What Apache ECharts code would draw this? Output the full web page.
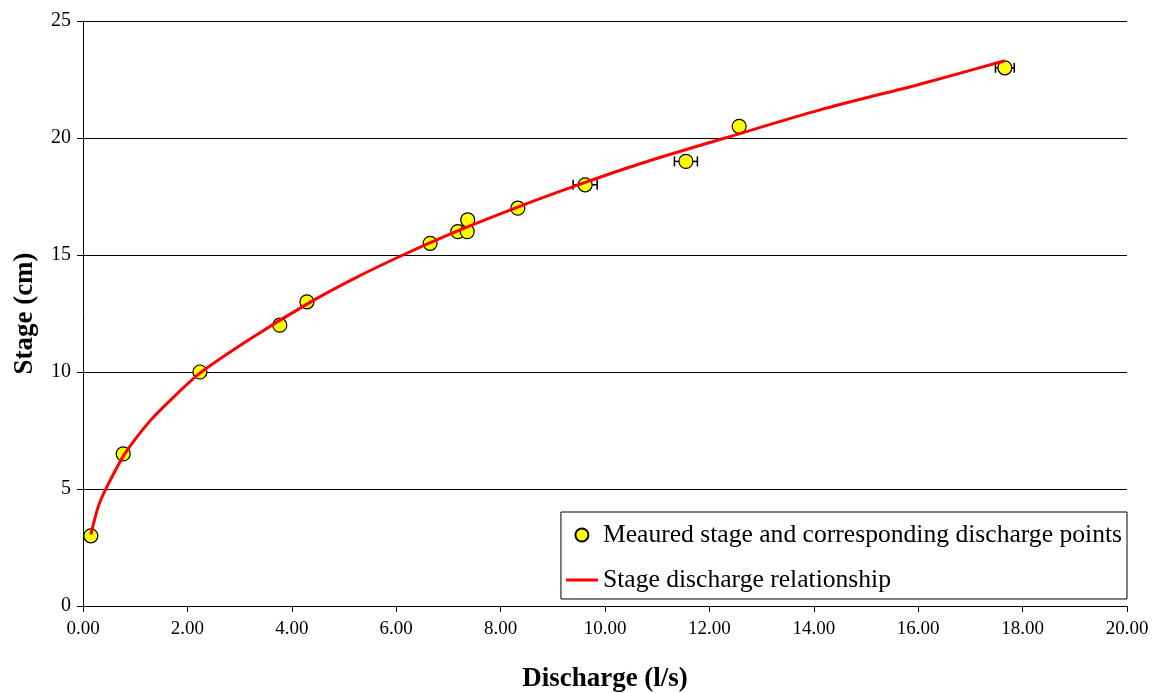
<!DOCTYPE html>
<html>
<head>
<meta charset="utf-8">
<script src="https://cdn.jsdelivr.net/npm/echarts@6/dist/echarts.min.js"></script>
<style>
  html, body { margin: 0; padding: 0; background: #fff; }
  #chart { width: 1166px; height: 693px; }
</style>
</head>
<body>
<div id="chart"></div>
<script>
// measured points: discharge (l/s) and stage (cm)
const pointQ = [0.15, 0.77, 2.24, 3.77, 4.29, 6.65, 7.18, 7.36, 7.37, 8.33, 9.62, 11.55, 12.57, 17.66]
const pointH = [3, 6.5, 10, 12, 13, 15.5, 16, 16, 16.5, 17, 18, 19, 20.5, 23]

// horizontal error bars: discharge, stage, +/- half width
const errQ = [7.36, 7.37, 9.62, 11.55, 17.66]
const errH = [16, 16.5, 18, 19, 23]
const errW = [0.1, 0.1, 0.23, 0.22, 0.18]

// stage discharge relationship
const curveQ = [0.15, 0.3, 0.46, 0.8, 1.28, 1.7, 2.24, 3.23, 4.29, 5.2, 6.13, 7.2, 8.33, 9.62, 10.67, 12.3, 14.12, 16.03, 17.66]
const curveH = [3.05, 4.3, 5.1, 6.5, 7.9, 8.85, 9.95, 11.45, 12.9, 14.0, 15.0, 16.05, 17.05, 18.1, 18.9, 20.0, 21.2, 22.3, 23.3]

const pointName = 'Meaured stage and corresponding discharge points'
const curveName = 'Stage discharge relationship'

const serif = '"Liberation Serif", "DejaVu Serif", serif'

const chart = echarts.init(document.getElementById('chart'))

const option = {
  backgroundColor: '#fff',
  animation: false,
  textStyle: { fontFamily: serif, color: '#000' },
  grid: { left: 83, right: 39, top: 21, bottom: 87, containLabel: false, outerBoundsMode: 'none' },
  legend: {
    data: [
      { name: pointName, icon: 'circle' },
      { name: curveName, icon: 'path://M0,0 L32,0 L32,3 L0,3 Z', itemStyle: { color: '#ff0000' } }
    ],
    orient: 'vertical',
    right: 39,
    top: 512,
    padding: [10, 5, 6, 5],
    itemGap: 19,
    itemWidth: 32,
    itemHeight: 13,
    backgroundColor: '#fff',
    borderColor: '#000',
    borderWidth: 1,
    borderRadius: 0,
    textStyle: { fontFamily: serif, fontSize: 25.6, color: '#000' }
  },
  xAxis: {
    type: 'value',
    min: 0,
    max: 20,
    interval: 2,
    name: 'Discharge (l/s)',
    nameLocation: 'middle',
    nameGap: 60,
    nameTextStyle: { fontFamily: serif, fontSize: 27, fontWeight: 'bold', color: '#000' },
    axisLine: { show: true, onZero: false, lineStyle: { color: '#000', width: 1 } },
    axisTick: { show: true, length: 6, lineStyle: { color: '#000' } },
    axisLabel: {
      fontFamily: serif, fontSize: 19, color: '#000', margin: 14,
      formatter: v => v.toFixed(2)
    },
    splitLine: { show: false }
  },
  yAxis: {
    type: 'value',
    min: 0,
    max: 25,
    interval: 5,
    name: 'Stage (cm)',
    nameLocation: 'middle',
    nameGap: 44,
    nameRotate: 90,
    nameTextStyle: { fontFamily: serif, fontSize: 27, fontWeight: 'bold', color: '#000' },
    axisLine: { show: true, lineStyle: { color: '#000', width: 1 } },
    axisTick: { show: true, length: 6, lineStyle: { color: '#000' } },
    axisLabel: { fontFamily: serif, fontSize: 20, color: '#000', margin: 12 },
    splitLine: { show: true, lineStyle: { color: '#000', width: 1 } }
  },
  series: [
    {
      name: 'error',
      type: 'custom',
      z: 2,
      data: errQ.map((q, i) => [q, errH[i], errW[i]]),
      encode: { x: 0, y: 1 },
      renderItem: (params, api) => {
        const q = api.value(0)
        const h = api.value(1)
        const w = api.value(2)
        const lo = api.coord([q - w, h])
        const hi = api.coord([q + w, h])
        const cap = 5
        const style = { stroke: '#000', lineWidth: 1.5 }
        return {
          type: 'group',
          children: [
            { type: 'line', shape: { x1: lo[0], y1: lo[1], x2: hi[0], y2: hi[1] }, style },
            { type: 'line', shape: { x1: lo[0], y1: lo[1] - cap, x2: lo[0], y2: lo[1] + cap }, style },
            { type: 'line', shape: { x1: hi[0], y1: hi[1] - cap, x2: hi[0], y2: hi[1] + cap }, style }
          ]
        }
      }
    },
    {
      name: pointName,
      type: 'scatter',
      z: 3,
      symbol: 'circle',
      symbolSize: 14,
      itemStyle: { color: '#ffff00', borderColor: '#000', borderWidth: 1.2, opacity: 1 },
      data: pointQ.map((q, i) => [q, pointH[i]])
    },
    {
      name: curveName,
      type: 'line',
      z: 4,
      symbol: 'none',
      smooth: 0.3,
      lineStyle: { color: '#ff0000', width: 3 },
      itemStyle: { color: '#ff0000' },
      data: curveQ.map((q, i) => [q, curveH[i]])
    }
  ]
}

chart.setOption(option)
</script>
</body>
</html>
